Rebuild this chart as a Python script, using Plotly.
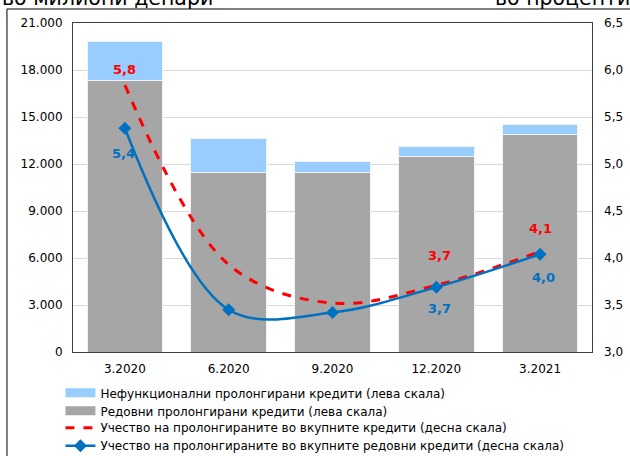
import plotly.graph_objects as go

categories = ["3.2020", "6.2020", "9.2020", "12.2020", "3.2021"]
regular_prolonged = [17320, 11445, 11445, 12510, 13900]
npl_prolonged = [2530, 2195, 700, 595, 590]
share_total = [5.84, 3.93, 3.52, 3.71, 4.07]
share_regular = [5.38, 3.45, 3.42, 3.69, 4.04]
left_ticks = [0, 3000, 6000, 9000, 12000, 15000, 18000, 21000]
right_ticks = [3.0, 3.5, 4.0, 4.5, 5.0, 5.5, 6.0, 6.5]

names = [
    "Нефункционални пролонгирани кредити (лева скала)",
    "Редовни пролонгирани кредити (лева скала)",
    "Учество на пролонгираните во вкупните кредити (десна скала)",
    "Учество на пролонгираните во вкупните редовни кредити (десна скала)",
]

FONT = "DejaVu Sans"
GREY = "#A6A6A6"
LBLUE = "#99CCFF"
RED = "#FF0000"
BLUE = "#0070C0"

fig = go.Figure()
fig.add_trace(go.Bar(x=categories, y=regular_prolonged, marker=dict(color=GREY, line=dict(color="#F2F2F2", width=1)),
                     showlegend=False, yaxis="y"))
fig.add_trace(go.Bar(x=categories, y=npl_prolonged, marker=dict(color=LBLUE, line=dict(color="#F2F2F2", width=1)),
                     showlegend=False, yaxis="y"))
# legend swatches for bars
fig.add_trace(go.Scatter(x=[categories[0]], y=[None], mode="lines", line=dict(color=LBLUE, width=9),
                         name=names[0], legend="legend"))
fig.add_trace(go.Scatter(x=[categories[0]], y=[None], mode="lines", line=dict(color=GREY, width=9),
                         name=names[1], legend="legend2"))
fig.add_trace(go.Scatter(x=categories, y=share_total, mode="lines", yaxis="y2",
                         line=dict(color=RED, width=3, dash="dash", shape="spline", smoothing=1.0),
                         name=names[2], legend="legend3"))
fig.add_trace(go.Scatter(x=categories, y=share_regular, mode="lines+markers", yaxis="y2",
                         line=dict(color=BLUE, width=2.5, shape="spline", smoothing=1.0),
                         marker=dict(symbol="diamond", size=10, color=BLUE),
                         name=names[3], legend="legend4"))

def fmt(v):
    return f"{v:.1f}".replace(".", ",")

annotations = []
red_labels = {0: 16, 3: 30, 4: 23}
blue_labels = {0: -25, 3: -21, 4: -23}
blue_xs = {0: -1, 3: 3, 4: 3}
for i, dy in red_labels.items():
    annotations.append(dict(x=i, y=share_total[i], xref="x", yref="y2", text=fmt(share_total[i]),
                            showarrow=False, yshift=dy, xshift=3 if i == 3 else 0,
                            font=dict(family=FONT, size=13, color=RED, weight="bold")))
for i, dy in blue_labels.items():
    annotations.append(dict(x=i, y=share_regular[i], xref="x", yref="y2", text=fmt(share_regular[i]),
                            showarrow=False, yshift=dy, xshift=blue_xs[i],
                            font=dict(family=FONT, size=13, color=BLUE, weight="bold")))
annotations.append(dict(x=-0.141, y=1.0426, xref="paper", yref="paper", xanchor="left", yanchor="bottom",
                        text="во милиони денари", showarrow=False, yshift=-3,
                        font=dict(family=FONT, size=20.5, color="#000000")))
annotations.append(dict(x=0.809, y=1.0426, xref="paper", yref="paper", xanchor="left", yanchor="bottom",
                        text="во проценти", showarrow=False, yshift=-3,
                        font=dict(family=FONT, size=20.5, color="#000000")))

shapes = [
    dict(type="line", xref="paper", yref="paper", x0=-0.1272, x1=1.2, y0=1.0426, y1=1.0426,
         line=dict(color="#000000", width=1)),
    dict(type="line", xref="paper", yref="paper", x0=-0.1272, x1=-0.1272, y0=1.0426, y1=-0.5,
         line=dict(color="#000000", width=1)),
]

leg_x = -0.0242
def leg(y):
    return dict(x=leg_x, y=y, xanchor="left", yanchor="top", orientation="v",
                font=dict(family=FONT, size=12), bgcolor="rgba(0,0,0,0)")

fig.update_layout(
    width=630, height=456,
    margin=dict(l=73, r=38, t=23, b=104, autoexpand=False),
    paper_bgcolor="white", plot_bgcolor="white",
    barmode="stack", bargap=0.27,
    separators=",.",
    font=dict(family=FONT, size=12, color="#000000"),
    showlegend=True,
    legend=leg(-0.0800),
    legend2=leg(-0.1347),
    legend3=leg(-0.1863),
    legend4=leg(-0.2410),
    xaxis=dict(type="category", categoryorder="array", categoryarray=categories, range=[-0.5, 4.5],
               showline=True, linecolor="#404040", linewidth=1, mirror=True, tickangle=0,
               ticks="", tickfont=dict(size=12), showgrid=False, ticklabelstandoff=6),
    yaxis=dict(range=[0, 21000], tickvals=left_ticks, tickformat=",d", showgrid=True, gridcolor="#D9D9D9",
               gridwidth=1, showline=True, linecolor="#404040", linewidth=1, mirror=True, ticks="",
               ticklabelstandoff=7, zeroline=False),
    yaxis2=dict(range=[3.0, 6.5], tickvals=right_ticks, tickformat=".1f", overlaying="y", side="right",
                showgrid=False, ticks="", ticklabelstandoff=11, zeroline=False, showline=False),
    annotations=annotations,
    shapes=shapes,
)

fig.write_html("out.html", config={"displayModeBar": False},
               post_script="document.body.style.margin='0';document.body.style.overflow='hidden';")
